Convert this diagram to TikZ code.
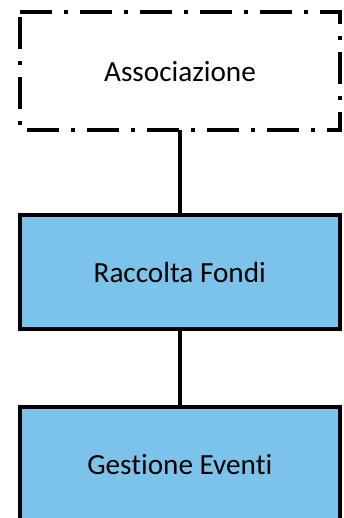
\documentclass[tikz,border=0pt]{standalone}
\usepackage{fontspec}
\setmainfont{Carlito}[Ligatures={NoCommon}]
\definecolor{boxblue}{RGB}{124,195,235}
\begin{document}
\begin{tikzpicture}[x=1pt,y=1pt,
  orgbox/.style={rectangle, minimum width=319.5pt, minimum height=113.5pt, inner sep=0pt,
    fill=boxblue, draw=black, line width=4pt, font=\fontsize{29.2}{33}\selectfont},
  topbox/.style={rectangle, minimum width=320pt, minimum height=117.7pt, inner sep=0pt,
    font=\fontsize{29.2}{33}\selectfont},
  link/.style={draw=black, line width=4pt}]
\useasboundingbox (0,0) rectangle (344,518);
\node[topbox] (a) at (180,446.85) {Associazione};
\draw[line width=4pt, dash pattern=on 32pt off 12pt on 4pt off 12pt]
  (a.north west) -- (a.north east) -- (a.south east) -- (a.south west) -- cycle;
\node[orgbox] (b) at (179.75,245.75) {Raccolta Fondi};
\node[orgbox] (c) at (179.75,53.75) {Gestione Eventi};
\draw[link] (a.south -| b.north) -- (b.north);
\draw[link] (b.south) -- (c.north);
\end{tikzpicture}
\end{document}
